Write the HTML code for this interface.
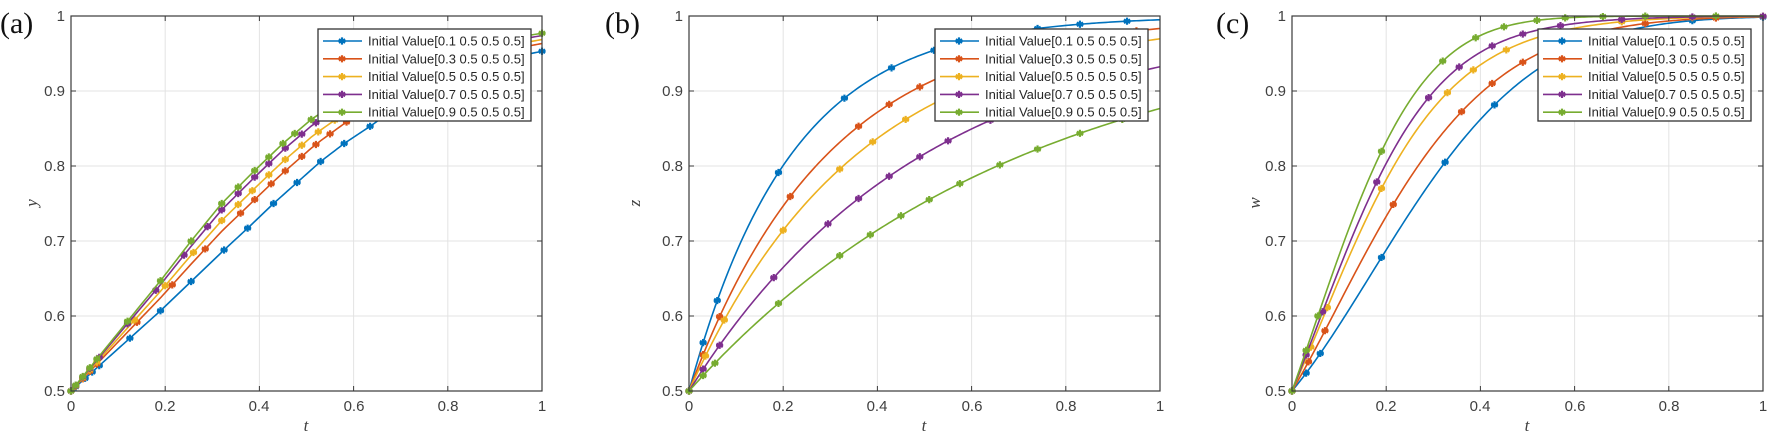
<!DOCTYPE html>
<html><head><meta charset="utf-8"><style>
html,body{margin:0;padding:0;background:#fff;}
svg{display:block;}
.tk{font-family:"Liberation Sans",sans-serif;font-size:15px;fill:#404040;}
.lg{font-family:"Liberation Sans",sans-serif;font-size:13px;fill:#262626;}
.ax{font-family:"Liberation Serif",serif;font-style:italic;font-size:17px;fill:#404040;}
.pl{font-family:"Liberation Serif",serif;font-size:30px;fill:#111;}
</style></head><body>
<svg id="s" width="1772" height="435" xmlns="http://www.w3.org/2000/svg">
<g id="grid"></g>
<g id="curves"></g>
<g id="frames"></g>
<g id="legends"></g>
<text class="pl" x="0" y="33">(a)</text>
<text class="pl" x="605" y="33">(b)</text>
<text class="pl" x="1216" y="33">(c)</text>
<g class="tk" text-anchor="end">
<text x="65" y="396">0.5</text><text x="65" y="321">0.6</text><text x="65" y="246">0.7</text><text x="65" y="171">0.8</text><text x="65" y="96">0.9</text><text x="65" y="21">1</text>
<text x="683" y="396">0.5</text><text x="683" y="321">0.6</text><text x="683" y="246">0.7</text><text x="683" y="171">0.8</text><text x="683" y="96">0.9</text><text x="683" y="21">1</text>
<text x="1286" y="396">0.5</text><text x="1286" y="321">0.6</text><text x="1286" y="246">0.7</text><text x="1286" y="171">0.8</text><text x="1286" y="96">0.9</text><text x="1286" y="21">1</text>
</g>
<g class="tk" text-anchor="middle">
<text x="71" y="411">0</text><text x="165" y="411">0.2</text><text x="259" y="411">0.4</text><text x="354" y="411">0.6</text><text x="448" y="411">0.8</text><text x="542" y="411">1</text>
<text x="689" y="411">0</text><text x="783" y="411">0.2</text><text x="877" y="411">0.4</text><text x="972" y="411">0.6</text><text x="1066" y="411">0.8</text><text x="1160" y="411">1</text>
<text x="1292" y="411">0</text><text x="1386" y="411">0.2</text><text x="1480" y="411">0.4</text><text x="1575" y="411">0.6</text><text x="1669" y="411">0.8</text><text x="1763" y="411">1</text>
</g>
<g class="ax" text-anchor="middle">
<text x="306" y="431">t</text><text x="924" y="431">t</text><text x="1527" y="431">t</text>
<text transform="translate(37,203) rotate(-90)">y</text>
<text transform="translate(640,203) rotate(-90)">z</text>
<text transform="translate(1260,203) rotate(-90)">w</text>
</g>
<g id="lgtext" class="lg"></g>
</svg>
<script>
var NS="http://www.w3.org/2000/svg";
var C=["#0072BD","#D95319","#EDB120","#7E2F8E","#77AC30"];
var L=[71,689,1292],W=471,T=16,B=391;
function el(p,n,a){var e=document.createElementNS(NS,n);for(var k in a)e.setAttribute(k,a[k]);p.appendChild(e);return e;}
var g=document.getElementById("grid"),cv=document.getElementById("curves"),fr=document.getElementById("frames"),lgg=document.getElementById("legends");
function px(p,t){return L[p]+t*W;}function py(v){return B-(v-0.5)*750;}
for(var p=0;p<3;p++){
 for(var i=1;i<5;i++){el(g,"line",{x1:px(p,i*0.2),x2:px(p,i*0.2),y1:T,y2:B,stroke:"#e3e3e3","stroke-width":1});
  el(g,"line",{x1:L[p],x2:L[p]+W,y1:py(0.5+i*0.1),y2:py(0.5+i*0.1),stroke:"#e3e3e3","stroke-width":1});}
}
function lin(pts,t){for(var i=1;i<pts.length;i++){if(t<=pts[i][0]){var a=pts[i-1],b=pts[i];var u=(t-a[0])/(b[0]-a[0]);return a[1]+u*(b[1]-a[1]);}}return pts[pts.length-1][1];}
var aB=[[0,.5],[.19,.607],[.325,.688],[.38,.72],[.43,.75],[.48,.778],[.53,.806],[.58,.83],[.64,.855],[.72,.892],[.8,.92],[.9,.94],[1,.953]];
var aG=[[0,.5],[.12,.593],[.19,.647],[.255,.70],[.32,.75],[.39,.794],[.45,.83],[.51,.862],[.6,.9],[.7,.93],[.85,.962],[1,.977]];
var fa=[0,.43,.65,.87,1];
function fA(i,t){var b=lin(aB,t),gg=lin(aG,t);return b+fa[i]*(gg-b);}
var kb=[4.6,3.4,2.8,2.0,1.4];
function fB(i,t){return 1-0.5*Math.exp(-kb[i]*t);}
function wc(a,b,t){return 1-0.5*Math.exp(-(a*t+b*t*t));}
var fc=[0,.31,.65,.8,1];
function fC(i,t){var b=wc(1.5,4.3,t),gg=wc(3.53,9.66,t);return b+fc[i]*(gg-b);}
var F=[fA,fB,fC];
var MA=[[.01,.03,.045,.06,.125,.19,.255,.325,.375,.43,.48,.53,.58,.635,.7,.76,.82,.88,.94,1],
[.01,.025,.04,.055,.14,.215,.285,.36,.39,.425,.455,.49,.52,.55,.585,.65,.72,.8,.88,.96],
[.01,.025,.04,.055,.135,.2,.26,.32,.355,.385,.42,.455,.49,.525,.56,.62,.7,.78,.86,.94],
[.01,.025,.04,.06,.12,.18,.24,.29,.32,.355,.39,.42,.455,.49,.52,.58,.66,.75,.85,.95],
[.01,.025,.04,.055,.12,.19,.255,.32,.355,.39,.42,.45,.475,.51,.55,.62,.7,.8,.9,1]];
var MB=[[.03,.06,.19,.33,.43,.52,.63,.74,.83,.93],[.03,.065,.215,.36,.425,.49,.56,.65,.75,.85,.95],[.035,.075,.2,.32,.39,.46,.53,.62,.72,.83,.94],[.03,.065,.18,.295,.36,.425,.49,.55,.64,.74,.85,.95],[.03,.055,.19,.32,.385,.45,.51,.575,.66,.74,.83,.92]];
var MC=[[.03,.06,.19,.325,.43,.55,.7,.85,1],[.035,.07,.215,.36,.425,.49,.6,.75,.9],[.04,.075,.19,.33,.385,.455,.55,.7,.85,1],[.03,.065,.18,.29,.355,.425,.49,.57,.7,.85,1],[.03,.055,.19,.32,.39,.45,.52,.58,.66,.75,.9]];
var M=[MA,MB,MC];
function star(p,x,y,c){var r=3.6,d="";for(var k=0;k<3;k++){var a=Math.PI/3*k+Math.PI/2;d+="M"+(x-r*Math.cos(a))+" "+(y-r*Math.sin(a))+"L"+(x+r*Math.cos(a))+" "+(y+r*Math.sin(a));}
 d+="M"+(x-r)+" "+y+"L"+(x+r)+" "+y;el(p,"path",{d:d,stroke:c,"stroke-width":2.2,fill:"none"});}
for(var p=0;p<3;p++){for(var i=0;i<5;i++){var d="";for(var s=0;s<=200;s++){var t=s/200;d+=(s?"L":"M")+px(p,t).toFixed(2)+" "+py(F[p](i,t)).toFixed(2);}
 el(cv,"path",{d:d,stroke:C[i],"stroke-width":1.6,fill:"none"});
 star(cv,px(p,0),py(0.5),C[i]);
 M[p][i].forEach(function(t){star(cv,px(p,t),py(F[p](i,t)),C[i]);});}}
for(var p=0;p<3;p++){el(fr,"rect",{x:L[p],y:T,width:W,height:B-T,fill:"none",stroke:"#3a3a3a","stroke-width":1.2});
 for(var i=0;i<=5;i++){var x=px(p,i*0.2);el(fr,"line",{x1:x,x2:x,y1:B,y2:B-5,stroke:"#3a3a3a"});el(fr,"line",{x1:x,x2:x,y1:T,y2:T+5,stroke:"#3a3a3a"});
  var y=py(0.5+i*0.1);el(fr,"line",{x1:L[p],x2:L[p]+5,y1:y,y2:y,stroke:"#3a3a3a"});el(fr,"line",{x1:L[p]+W,x2:L[p]+W-5,y1:y,y2:y,stroke:"#3a3a3a"});}}
var LX=[318,935,1538];
var names=["Initial Value[0.1 0.5 0.5 0.5]","Initial Value[0.3 0.5 0.5 0.5]","Initial Value[0.5 0.5 0.5 0.5]","Initial Value[0.7 0.5 0.5 0.5]","Initial Value[0.9 0.5 0.5 0.5]"];
var lt=document.getElementById("lgtext");
for(var p=0;p<3;p++){var x0=LX[p];el(lgg,"rect",{x:x0,y:29,width:213,height:92,fill:"#fff",stroke:"#333","stroke-width":1.3});
 for(var i=0;i<5;i++){var y=41+i*17.8;el(lgg,"line",{x1:x0+5,x2:x0+44,y1:y,y2:y,stroke:C[i],"stroke-width":1.6});star(lgg,x0+24,y,C[i]);
  var tx=el(lt,"text",{x:x0+50,y:y+4.5});tx.textContent=names[i];}}
</script>
</body></html>
